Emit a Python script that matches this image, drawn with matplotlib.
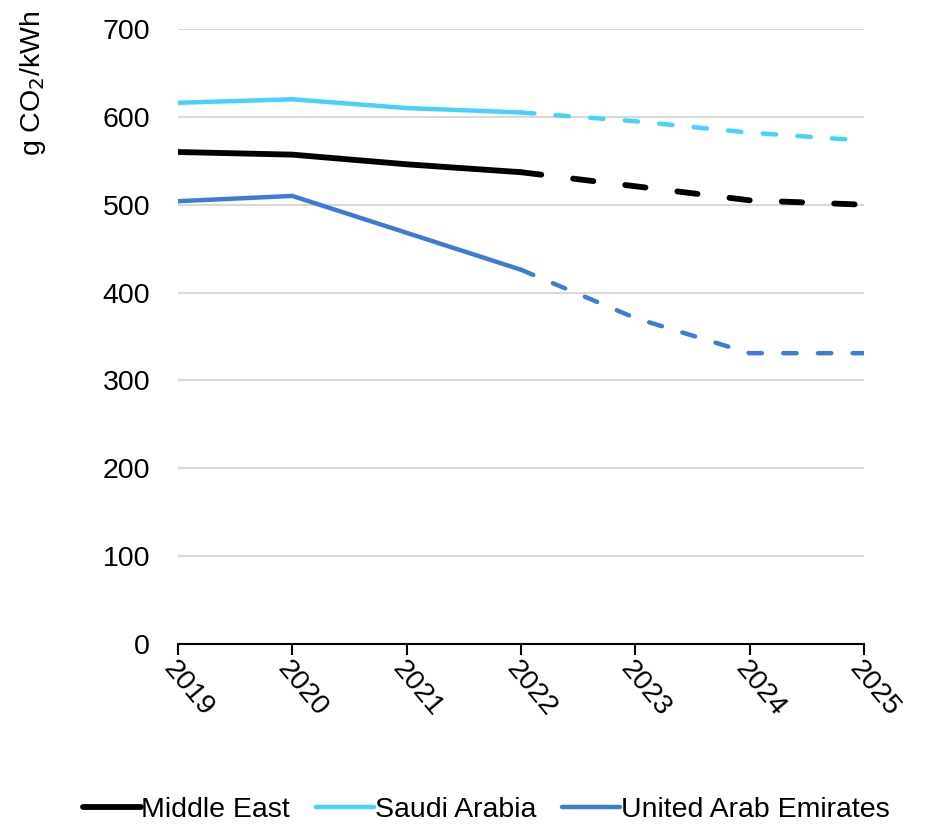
import matplotlib
matplotlib.use("Agg")
import matplotlib.pyplot as plt

years = [2019, 2020, 2021, 2022, 2023, 2024, 2025]
middle_east = [560, 557, 546, 537, 521, 505, 500]
saudi_arabia = [616, 620, 610, 605, 595, 582, 573]
uae = [504, 510, 468, 426, 371, 331, 331]
series_names = ["Middle East", "Saudi Arabia", "United Arab Emirates"]
colors = ["#000000", "#48D1FA", "#3F7BD6"]
split = 3  # index of 2022, start of projection

plt.rcParams['font.family'] = ['Liberation Sans', 'DejaVu Sans']
FS = 20.5

fig = plt.figure(figsize=(9.33, 8.26), dpi=100)
ax = fig.add_axes([178/933, 1-644/826, (864-178)/933, (644-29)/826])

handles = []
styles = [(4.2, (0, (3.5, 5.5))), (3.2, (0, (3.0, 4.8))), (3.2, (0, (3.0, 4.8)))]
for vals, c, name, (lw, dash) in zip([middle_east, saudi_arabia, uae], colors, series_names, styles):
    h, = ax.plot(years[:split+1], vals[:split+1], color=c, lw=lw, solid_capstyle='round',
                 solid_joinstyle='round', label=name)
    ax.plot(years[split:], vals[split:], color=c, lw=lw, ls=dash, dash_capstyle='round',
            dash_joinstyle='round')
    handles.append(h)

ax.set_xlim(2019, 2025)
ax.set_ylim(0, 700)
ax.set_yticks(range(0, 701, 100))
ax.set_xticks(years)
ax.grid(axis='y', color='#D9D9D9', lw=1.5)
ax.set_axisbelow(True)
for s in ['left', 'right', 'top']:
    ax.spines[s].set_visible(False)
ax.spines['bottom'].set_linewidth(1.5)
ax.tick_params(axis='y', length=0, labelsize=FS, pad=20)
ax.tick_params(axis='x', length=8, width=1.5, direction='out', labelsize=FS, pad=1)
for lab in ax.get_xticklabels():
    lab.set_rotation(-50)
    lab.set_ha('left')
    lab.set_va('top')
    lab.set_rotation_mode('anchor')
ax.set_ylabel("g CO$_2$/kWh", fontsize=FS)
ax.yaxis.set_label_coords(-0.19, 0.912)

fig.legend(handles=handles, labels=series_names, loc='center', bbox_to_anchor=(486/933, 1-810/826),
           ncol=3, frameon=False, fontsize=FS, handlelength=2.05, handletextpad=0.02,
           columnspacing=0.9, borderpad=0, borderaxespad=0)

fig.savefig("out.png", dpi=100)
